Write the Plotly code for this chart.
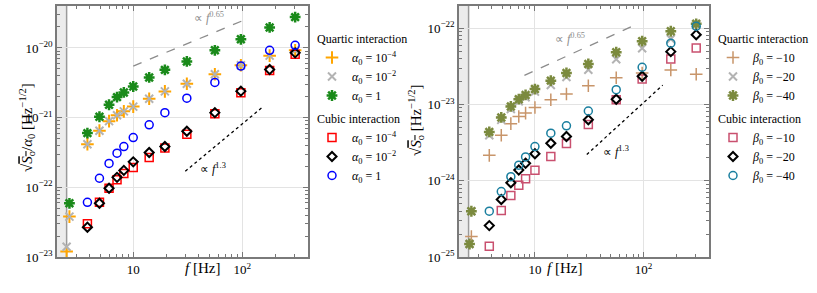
import numpy as np
import plotly.graph_objects as go

# ---------------- data ----------------
f_main = [3.8, 4.9, 6.0, 7.1, 8.2, 10, 14, 19.5, 31, 56, 97, 178, 305]
f_low2 = [2.45, 2.6]
f_low1 = [2.6]

# left panel (sqrt(S_o)/alpha_0)
L_quart_1em4 = [1.2e-23, 3.8e-23, 4.16e-22, 6.5e-22, 8.9e-22, 1.08e-21, 1.23e-21, 1.44e-21,
                1.87e-21, 2.38e-21, 3.06e-21, 4.2e-21, 5.64e-21, 7.76e-21, 9.25e-21]
L_quart_1em2 = [1.4e-23, 3.8e-23, 4.16e-22, 6.5e-22, 8.9e-22, 1.08e-21, 1.23e-21, 1.44e-21,
                1.87e-21, 2.38e-21, 3.06e-21, 4.2e-21, 5.64e-21, 7.76e-21, 9.25e-21]
L_quart_1 = [5.9e-23, 6.0e-22, 1.03e-21, 1.53e-21, 1.97e-21, 2.30e-21, 2.8e-21, 3.77e-21,
             4.85e-21, 6.4e-21, 9.25e-21, 1.33e-20, 1.97e-20, 2.77e-20]
L_cub_1em4 = [2.99e-23, 6.1e-23, 9.7e-23, 1.28e-22, 1.58e-22, 1.93e-22, 2.68e-22, 3.68e-22,
              5.77e-22, 1.14e-21, 2.28e-21, 4.74e-21, 8.1e-21]
L_cub_1em2 = [2.68e-23, 5.9e-23, 9.7e-23, 1.39e-22, 1.75e-22, 2.32e-22, 3.16e-22, 3.85e-22,
              6.37e-22, 1.18e-21, 2.4e-21, 4.9e-21, 8.5e-21]
L_cub_1 = [6.1e-23, 1.35e-22, 2.2e-22, 3.09e-22, 3.85e-22, 5.18e-22, 7.9e-22, 1.18e-21,
           1.9e-21, 3.2e-21, 5.5e-21, 9.25e-21, 1.09e-20]

# right panel (sqrt(S_o))
f_low_r = [2.5, 2.6]
R_quart_m10 = [1.85e-25, 2.15e-24, 3.95e-24, 5.6e-24, 6.95e-24, 7.7e-24, 9.1e-24, 1.15e-23,
               1.37e-23, 1.76e-23, 2.24e-23, 2.58e-23, 2.83e-23, 2.48e-23]
R_quart_m20 = [1.48e-25, 3.98e-25, 3.95e-24, 6.27e-24, 8.7e-24, 1.1e-23, 1.24e-23, 1.47e-23,
               1.8e-23, 2.29e-23, 2.85e-23, 3.9e-23, 5.46e-23, 7.2e-23, 1.1e-22]
R_quart_m40 = [1.48e-25, 3.98e-25, 4.36e-24, 6.75e-24, 9.4e-24, 1.17e-23, 1.33e-23, 1.59e-23,
               2.05e-23, 2.58e-23, 3.39e-23, 4.83e-23, 6.75e-23, 9.1e-23, 1.14e-22]
R_cub_m10 = [1.38e-25, 4.07e-25, 6.4e-25, 8.75e-25, 1.06e-24, 1.37e-24, 2.07e-24, 3.07e-24,
             5.45e-24, 1.15e-23, 2.15e-23, 3.95e-23, 5.5e-23]
R_cub_m20 = [2.58e-25, 5.68e-25, 9.4e-25, 1.38e-24, 1.69e-24, 2.26e-24, 3.1e-24, 3.8e-24,
             6.3e-24, 1.17e-23, 2.34e-23, 4.92e-23, 8.2e-23]
R_cub_m40 = [3.98e-25, 7.2e-25, 1.13e-24, 1.6e-24, 2.05e-24, 2.8e-24, 4.2e-24, 5.24e-24,
             8.2e-24, 1.56e-23, 3.07e-23, 6.35e-23, 1.06e-22]

# guide lines
L_dash_f, L_dash_y = [10, 100], [5.5e-21, 2.45e-20]
L_dot_f, L_dot_y = [30, 150], [1.7e-22, 1.38e-21]
R_dash_f, R_dash_y = [8, 80], [2.4e-23, 1.07e-22]
R_dot_f, R_dot_y = [30, 150], [2.2e-24, 1.79e-23]

x_tickvals = [10, 100]
x_ticktext = ["10", "10<sup>2</sup>"]
L_ytickvals = [1e-23, 1e-22, 1e-21, 1e-20]
L_yticktext = ["10<sup>\u221223</sup>", "10<sup>\u221222</sup>", "10<sup>\u221221</sup>", "10<sup>\u221220</sup>"]
R_ytickvals = [1e-25, 1e-24, 1e-23, 1e-22]
R_yticktext = ["10<sup>\u221225</sup>", "10<sup>\u221224</sup>", "10<sup>\u221223</sup>", "10<sup>\u221222</sup>"]

FONT = "Liberation Serif"
band_edge = 2.45
x_range = [np.log10(2.0), np.log10(400)]

fig = go.Figure()


def add(xs, ys, name, symbol, color, size, lw, xa, ya, legend, group, gtitle):
    fig.add_trace(go.Scatter(
        x=xs, y=ys, mode="markers", name=name, xaxis=xa, yaxis=ya,
        legend=legend, legendgroup=group,
        legendgrouptitle=dict(text=gtitle, font=dict(family=FONT, size=12, color="black")),
        marker=dict(symbol=symbol, size=size, color=color,
                    line=dict(color=color, width=lw)),
    ))


a = "<i>\u03b1</i><sub>0</sub> = "
b = "<i>\u03b2</i><sub>0</sub> = "
# left
add(f_low2 + f_main, L_quart_1em4, a + "10<sup>\u22124</sup>", "cross-thin", "#ffa500", 9, 2, "x", "y", "legend", "lq", "Quartic interaction")
add(f_low2 + f_main, L_quart_1em2, a + "10<sup>\u22122</sup>", "x-thin", "#b3b3b3", 8, 2, "x", "y", "legend", "lq", "Quartic interaction")
add(f_low1 + f_main, L_quart_1, a + "1", "asterisk-open", "#1a8a1a", 9, 2.5, "x", "y", "legend", "lq", "Quartic interaction")
add(f_main, L_cub_1em4, a + "10<sup>\u22124</sup>", "square-open", "#ff0000", 8, 1.5, "x", "y", "legend", "lc", "Cubic interaction")
add(f_main, L_cub_1em2, a + "10<sup>\u22122</sup>", "diamond-open", "#000000", 7, 2, "x", "y", "legend", "lc", "Cubic interaction")
add(f_main, L_cub_1, a + "1", "circle-open", "#0000ff", 8, 1.5, "x", "y", "legend", "lc", "Cubic interaction")
# right
add(f_low1 + f_main, R_quart_m10, b + "\u221210", "cross-thin", "#c8956a", 9, 1.5, "x2", "y2", "legend2", "rq", "Quartic interaction")
add(f_low_r + f_main, R_quart_m20, b + "\u221220", "x-thin", "#b3b3b3", 8, 2, "x2", "y2", "legend2", "rq", "Quartic interaction")
add(f_low_r + f_main, R_quart_m40, b + "\u221240", "asterisk-open", "#7b8a3e", 9, 2.5, "x2", "y2", "legend2", "rq", "Quartic interaction")
add(f_main, R_cub_m10, b + "\u221210", "square-open", "#c9506f", 8, 1.5, "x2", "y2", "legend2", "rc", "Cubic interaction")
add(f_main, R_cub_m20, b + "\u221220", "diamond-open", "#000000", 7, 2, "x2", "y2", "legend2", "rc", "Cubic interaction")
add(f_main, R_cub_m40, b + "\u221240", "circle-open", "#1a7f9f", 8, 1.5, "x2", "y2", "legend2", "rc", "Cubic interaction")

# guide lines
for xs, ys, dash, col, xa, ya in [
    (L_dash_f, L_dash_y, "dash", "#8c8c8c", "x", "y"),
    (L_dot_f, L_dot_y, "dot", "#000000", "x", "y"),
    (R_dash_f, R_dash_y, "dash", "#8c8c8c", "x2", "y2"),
    (R_dot_f, R_dot_y, "dot", "#000000", "x2", "y2"),
]:
    fig.add_trace(go.Scatter(x=xs, y=ys, mode="lines", showlegend=False, xaxis=xa, yaxis=ya,
                             line=dict(color=col, width=1.3, dash=dash), hoverinfo="skip"))

band_frac = (np.log10(band_edge) - x_range[0]) / (x_range[1] - x_range[0])
shapes = []
for xr, yr in [("x domain", "y domain"), ("x2 domain", "y2 domain")]:
    shapes.append(dict(type="rect", xref=xr, yref=yr, x0=0, x1=band_frac, y0=0, y1=1,
                       fillcolor="#ececec", line=dict(width=0), layer="below"))
    shapes.append(dict(type="line", xref=xr, yref=yr, x0=band_frac, x1=band_frac, y0=0, y1=1,
                       line=dict(color="#9a9a9a", width=1.5), layer="below"))

minor_x = [v * d for d in (1, 10, 100) for v in range(2, 10) if 2 <= v * d <= 400]


def xaxis(domain, anchor):
    return dict(type="log", domain=domain, anchor=anchor, range=x_range, automargin=False,
                tickvals=x_tickvals, ticktext=x_ticktext, ticks="inside", ticklen=5,
                tickcolor="#777", showline=True, linecolor="#7a7a7a", linewidth=1.5,
                mirror="allticks", showgrid=True, gridcolor="#e3e3e3", gridwidth=1,
                zeroline=False, tickfont=dict(family=FONT, size=13, color="black"),
                minor=dict(tickvals=minor_x, ticks="inside", ticklen=3, tickcolor="#777", showgrid=False))


def yaxis(domain, anchor, rng, tv, tt):
    minor_y = [v * t for t in tv for v in range(2, 10)]
    return dict(type="log", domain=domain, anchor=anchor, range=rng, automargin=False,
                tickvals=tv, ticktext=tt, ticks="inside", ticklen=5,
                tickcolor="#777", showline=True, linecolor="#7a7a7a", linewidth=1.5,
                mirror="allticks", showgrid=True, gridcolor="#e3e3e3", gridwidth=1,
                zeroline=False, tickfont=dict(family=FONT, size=13, color="black"),
                minor=dict(tickvals=minor_y, ticks="inside", ticklen=3, tickcolor="#777", showgrid=False))


W, H = 817, 293
ydom = [1 - 257 / H, 1 - 6 / H]
fig.update_layout(
    width=W, height=H, margin=dict(l=0, r=0, t=0, b=0, autoexpand=False),
    paper_bgcolor="white", plot_bgcolor="white",
    font=dict(family=FONT, size=12, color="black"),
    xaxis=xaxis([57 / W, 308 / W], "y"),
    yaxis=yaxis(ydom, "x", [-23, np.log10(4.0e-20)], L_ytickvals, L_yticktext),
    xaxis2=xaxis([459 / W, 709 / W], "y2"),
    yaxis2=yaxis(ydom, "x2", [-25, np.log10(1.95e-22)], R_ytickvals, R_yticktext),
    shapes=shapes,
    legend=dict(x=312 / W, y=1 - 24 / H, xanchor="left", yanchor="top", bgcolor="rgba(0,0,0,0)",
                font=dict(family=FONT, size=12), tracegroupgap=4, itemwidth=30),
    legend2=dict(x=713 / W, y=1 - 24 / H, xanchor="left", yanchor="top", bgcolor="rgba(0,0,0,0)",
                 font=dict(family=FONT, size=12), tracegroupgap=4, itemwidth=30),
    showlegend=True,
)

sq_left = "\u221a<span style='text-decoration:overline'><i>S</i><sub>o</sub></span>/<i>\u03b1</i><sub>0</sub> [Hz<sup>\u22121/2</sup>]"
sq_right = "\u221a<span style='text-decoration:overline'><i>S</i><sub>o</sub></span> [Hz<sup>\u22121/2</sup>]"
ann = [
    dict(text=sq_left, x=15 / W, y=1 - 128 / H, xref="paper", yref="paper", textangle=-90,
         showarrow=False, font=dict(family=FONT, size=15)),
    dict(text=sq_right, x=416 / W, y=1 - 120 / H, xref="paper", yref="paper", textangle=-90,
         showarrow=False, font=dict(family=FONT, size=15)),
    dict(text="<i>f</i> [Hz]", x=182.5 / W, y=1 - 278 / H, xref="paper", yref="paper",
         showarrow=False, font=dict(family=FONT, size=15)),
    dict(text="<i>f</i> [Hz]", x=584 / W, y=1 - 278 / H, xref="paper", yref="paper",
         showarrow=False, font=dict(family=FONT, size=15)),
    dict(text="\u221d <i>f</i><sup>0.65</sup>", x=np.log10(50), y=np.log10(2.7e-20), xref="x", yref="y",
         showarrow=False, font=dict(family=FONT, size=12, color="#8c8c8c")),
    dict(text="\u221d <i>f</i><sup>1.3</sup>", x=np.log10(54), y=np.log10(1.89e-22), xref="x", yref="y",
         showarrow=False, font=dict(family=FONT, size=12, color="black")),
    dict(text="\u221d <i>f</i><sup>0.65</sup>", x=np.log10(21), y=np.log10(7.4e-23), xref="x2", yref="y2",
         showarrow=False, font=dict(family=FONT, size=12, color="#8c8c8c")),
    dict(text="\u221d <i>f</i><sup>1.3</sup>", x=np.log10(56), y=np.log10(2.45e-24), xref="x2", yref="y2",
         showarrow=False, font=dict(family=FONT, size=12, color="black")),
]
fig.update_layout(annotations=ann)

fig.write_html("out.html", config={"displayModeBar": False},
               post_script="document.body.style.margin='0';document.body.style.overflow='hidden';")
